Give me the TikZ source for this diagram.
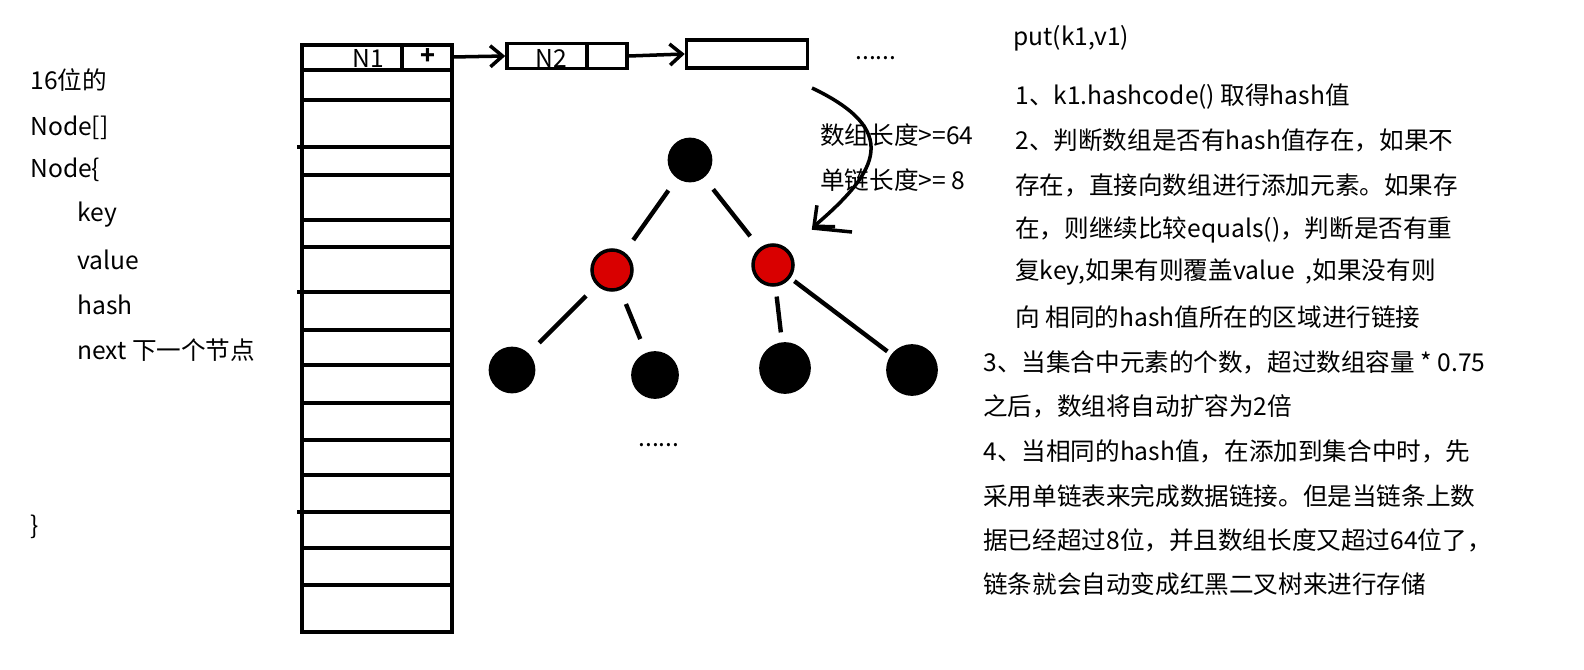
\documentclass[tikz,border=0pt]{standalone}
\usepackage{fontspec}
\setmainfont{Noto Sans CJK SC}
\usetikzlibrary{arrows.meta}
\tikzset{
  txt/.style={anchor=west,inner sep=0pt,font=\fontsize{14pt}{16pt}\selectfont},
  cell/.style={draw,line width=2pt,minimum height=0.5cm,inner sep=0pt},
  blk/.style={circle,fill=black,draw=black,line width=1pt},
  red/.style={circle,fill=red!85!black,draw=black,line width=2pt},
  lnk/.style={line width=2pt,-{Straight Barb[length=7pt,width=12pt]}},
  edge/.style={line width=2.5pt,shorten >=0.3cm,shorten <=0.3cm}
}
\begin{document}
\begin{tikzpicture}[x=0.02cm,y=-0.02cm]
  \useasboundingbox (0,0) rectangle (1584,669);
  % array
  \draw[line width=2.5pt] (302,45) rectangle (452,632);
  \foreach \y in {70,100,175,220,247,330,365,403,440,475,548,585}
    \draw[line width=2pt] (302,\y) -- (452,\y);
  \foreach \y in {147,292,512}
    \draw[line width=2pt] (297,\y) -- (452,\y);
  \draw[line width=2pt] (402,45) -- (402,70);
  \node[txt] (n1) at (352,58) {N1};
  \node[txt] (plus) at (420,57) {\textbf{+}};
  % list
  \node[cell,minimum width=2.4cm] (l2) at (567,56) {};
  \node[txt] at (535,58) {N2};
  \draw[line width=2pt] (587,43) -- (587,68);
  \node[cell,minimum width=2.42cm,minimum height=0.56cm] (l3) at (747,54) {};
  \coordinate (a0) at (452,57);
  \draw[lnk] (a0) -- (l2.west);
  \draw[lnk] (l2.east) -- (l3.west);
  \node[txt] (dots1) at (855,58) {......};
  % curve to tree
  \coordinate (c0) at (812,88);
  \coordinate (c1) at (812,228);
  \coordinate (c2) at (852,232);
  \draw[line width=2pt,-{Straight Barb[length=9pt,width=16pt]}] (c0) .. controls (900,130) and (880,170) .. (c1);
  \draw[line width=2pt] (c1) -- (c2);
  \node[txt] (lim1) at (820,135) {数组长度>=64};
  \node[txt] (lim2) at (820,180) {单链长度>= 8};
  % tree
  \node[blk,minimum size=0.86cm] (root) at (690,160) {};
  \node[red,minimum size=0.8cm] (r1) at (612,270) {};
  \node[red,minimum size=0.8cm] (r2) at (773,265) {};
  \node[blk,minimum size=0.9cm] (b1) at (512,370) {};
  \node[blk,minimum size=0.92cm] (b2) at (655,375) {};
  \node[blk,minimum size=1cm] (b3) at (785,368) {};
  \node[blk,minimum size=1cm] (b4) at (912,370) {};
  \draw[edge] (root) -- (r1);
  \draw[edge] (root) -- (r2);
  \draw[edge] (r1) -- (b1);
  \draw[edge] (r1) -- (b2);
  \draw[edge,shorten >=0.2cm,shorten <=0.2cm] (r2) -- (b3);
  \draw[edge,shorten <=0.1cm,shorten >=0.1cm] (r2) -- (b4);
  \node[txt] (dots2) at (638,445) {......};
  % left
  \node[txt] at (30,80) {16位的};
  \node[txt] at (30,128) {Node[]};
  \node[txt] at (30,170) {Node\{};
  \node[txt] at (77,215) {key};
  \node[txt] at (77,260) {value};
  \node[txt] at (77,305) {hash};
  \node[txt] at (77,350) {next 下一个节点};
  \node[txt] at (30,527) {\}};
  % right
  \node[txt] at (1013,38) {put(k1,v1)};
  \node[txt] at (1015,97) {1、k1.hashcode() 取得hash值};
  \node[txt] at (1015,140) {2、判断数组是否有hash值存在，如果不};
  \node[txt] at (1015,185) {存在，直接向数组进行添加元素。如果存};
  \node[txt] at (1015,230) {在，则继续比较equals()，判断是否有重};
  \node[txt] at (1015,272) {复key,如果有则覆盖value\ \ ,如果没有则};
  \node[txt] at (1015,317) {向 相同的hash值所在的区域进行链接};
  \node[txt] at (983,362) {3、当集合中元素的个数，超过数组容量 * 0.75};
  \node[txt] at (983,406) {之后，数组将自动扩容为2倍};
  \node[txt] at (983,451) {4、当相同的hash值，在添加到集合中时，先};
  \node[txt] at (983,496) {采用单链表来完成数据链接。但是当链条上数};
  \node[txt] at (983,540) {据已经超过8位，并且数组长度又超过64位了，};
  \node[txt] at (983,584) {链条就会自动变成红黑二叉树来进行存储};
\end{tikzpicture}
\end{document}
